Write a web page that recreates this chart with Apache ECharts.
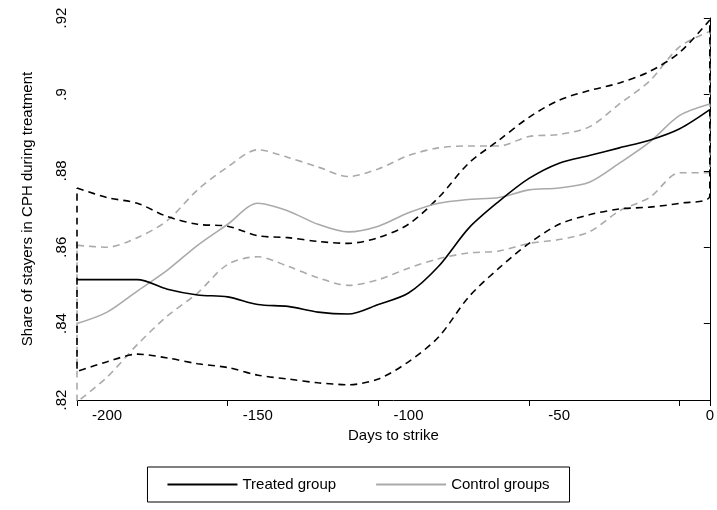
<!DOCTYPE html>
<html><head><meta charset="utf-8">
<script src="https://cdn.jsdelivr.net/npm/echarts@6/dist/echarts.min.js"></script>
<style>html,body{margin:0;background:#fff}#main{width:717px;height:510px}</style>
</head><body><div id="main"></div>
<script>
const days = [-210,-200,-190,-180,-170,-160,-150,-140,-130,-120,-110,-100,-90,-80,-70,-60,-50,-40,-30,-20,-10,0];
const treated = [0.8515,0.8515,0.8515,0.849,0.8475,0.847,0.845,0.8445,0.843,0.8425,0.845,0.848,0.855,0.865,0.872,0.878,0.882,0.884,0.886,0.888,0.891,0.896];
const treatedHi = [0.8755,0.873,0.8715,0.868,0.866,0.8655,0.863,0.8625,0.8615,0.861,0.8625,0.866,0.873,0.882,0.888,0.894,0.8985,0.901,0.903,0.906,0.911,0.9195];
const treatedLo = [0.8275,0.830,0.832,0.831,0.8295,0.8285,0.8265,0.8255,0.8245,0.824,0.8255,0.830,0.8365,0.847,0.8545,0.861,0.866,0.8685,0.870,0.8705,0.8715,0.8735];
const control = [0.840,0.843,0.8485,0.854,0.8605,0.866,0.8715,0.8695,0.866,0.864,0.8655,0.869,0.8715,0.8725,0.873,0.875,0.8755,0.877,0.882,0.8875,0.8945,0.8975];
const controlHi = [0.8605,0.860,0.8625,0.867,0.875,0.881,0.8855,0.8835,0.881,0.8785,0.8805,0.884,0.886,0.8865,0.8865,0.889,0.8895,0.8915,0.8975,0.9035,0.9125,0.9165];
const controlLo = [0.8195,0.826,0.8345,0.842,0.848,0.8555,0.8575,0.855,0.852,0.850,0.8515,0.8545,0.857,0.8585,0.859,0.861,0.862,0.864,0.8695,0.873,0.8795,0.8795];

function pairs(ys){ return days.map((d,i)=>[d,ys[i]]); }
// band drawn as one closed dashed path: upper forward, lower backward
function band(hi, lo){ return pairs(hi).concat(pairs(lo).reverse()).concat([[days[0],hi[0]]]); }

const myChart = echarts.init(document.getElementById('main'));
myChart.setOption({
  animation:false,
  textStyle:{fontFamily:'Liberation Sans, Arial, sans-serif'},
  grid:{left:77,right:5,top:18,bottom:110},
  legend:{
    bottom:8, left:'center', itemWidth:70, itemHeight:2, itemGap:40, icon:'rect',
    padding:[10,20], borderColor:'#000', borderWidth:1,
    textStyle:{fontSize:15,color:'#000'},
    data:['Treated group','Control groups']
  },
  xAxis:{
    type:'value', min:-210, max:0, interval:50,
    name:'Days to strike', nameLocation:'middle', nameGap:28,
    nameTextStyle:{fontSize:15,color:'#000'},
    axisLine:{lineStyle:{color:'#000'}}, axisTick:{length:6,lineStyle:{color:'#000'}},
    axisLabel:{fontSize:15,color:'#000',customValues:[-200,-150,-100,-50,0]},
    splitLine:{show:false}
  },
  yAxis:{
    type:'value', min:0.82, max:0.92, interval:0.02,
    name:'Share of stayers in CPH during treatment', nameLocation:'middle', nameGap:42,
    nameTextStyle:{fontSize:15,color:'#000'},
    axisLine:{show:true,lineStyle:{color:'#000'}}, axisTick:{show:true,length:6,lineStyle:{color:'#000'}},
    axisLabel:{fontSize:15,color:'#000',rotate:90,formatter:v=>String(+v.toFixed(2)).replace(/^0/,'')},
    splitLine:{show:false}
  },
  series:[
    {name:'Control groups band',type:'line',data:band(controlHi,controlLo),smooth:0.3,showSymbol:false,
     lineStyle:{color:'#aaaaaa',width:1.6,type:[7,5]}},
    {name:'Treated group band',type:'line',data:band(treatedHi,treatedLo),smooth:0.3,showSymbol:false,
     lineStyle:{color:'#000',width:1.6,type:[7,5]}},
    {name:'Control groups',type:'line',data:pairs(control),smooth:0.3,showSymbol:false,
     itemStyle:{color:'#aaaaaa'},lineStyle:{color:'#aaaaaa',width:1.6}},
    {name:'Treated group',type:'line',data:pairs(treated),smooth:0.3,showSymbol:false,
     itemStyle:{color:'#000'},lineStyle:{color:'#000',width:1.6}}
  ]
});
</script></body></html>
